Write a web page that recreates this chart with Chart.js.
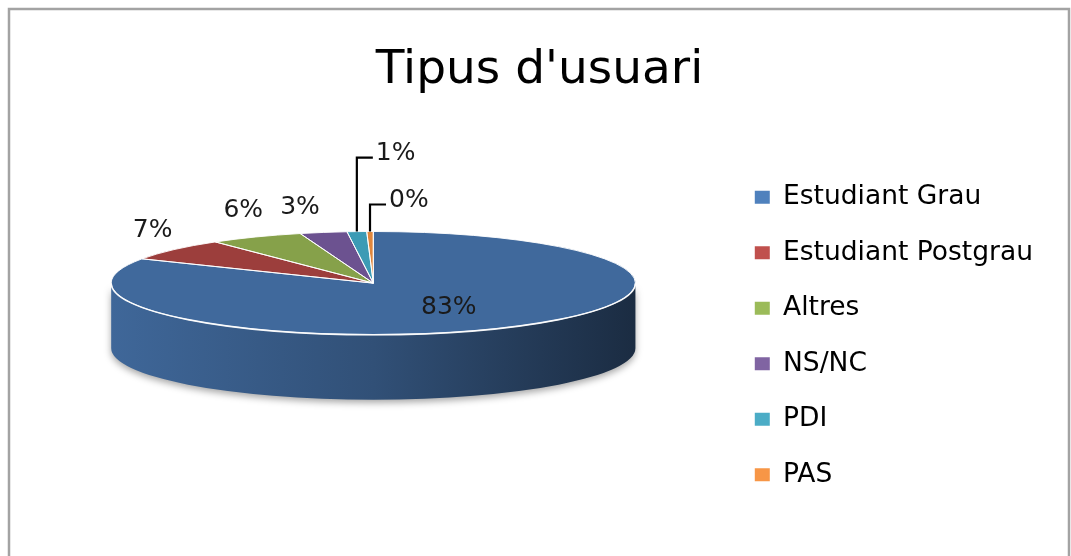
<!DOCTYPE html>
<html>
<head>
<meta charset="utf-8">
<script src="https://cdn.jsdelivr.net/npm/chart.js@4.4.0/dist/chart.umd.min.js"></script>
<style>
  html, body { margin: 0; padding: 0; background: #fff; }
  #wrap { position: absolute; left: 0; top: 0; width: 1071px; height: 556px; }
</style>
</head>
<body>
<div id="wrap"><canvas id="chart"></canvas></div>
<script>
var categories = ['Estudiant Grau', 'Estudiant Postgrau', 'Altres', 'NS/NC', 'PDI', 'PAS'];
var shares = [82.8, 6.9, 5.8, 2.9, 1.2, 0.4];
var topColors = ['#40699c', '#9c3e3c', '#86a14a', '#6c5290', '#3c9bb5', '#e0873d'];
var legendColors = ['#4f81bd', '#c0504d', '#9bbb59', '#8064a2', '#4bacc6', '#f79646'];

var FONT = 'DejaVu Sans';

function shade(hex, f) {
    var n = parseInt(hex.slice(1), 16);
    var r = n >> 16, g = (n >> 8) & 255, b = n & 255;
    return 'rgb(' + Math.round(r * f) + ',' + Math.round(g * f) + ',' + Math.round(b * f) + ')';
}

// where the tilted pie sits inside the chart area
function pieGeometry(chart) {
    var ca = chart.chartArea;
    var rx = ca.width * 0.38;
    return {
        cx: ca.left + ca.width * 0.489,
        cy: ca.top + ca.height * 0.389,
        rx: rx,
        ry: rx * 0.197,
        depth: rx * 0.248
    };
}

var frame = {
    id: 'frame',
    beforeDraw: function(chart) {
        var ctx = chart.ctx;
        ctx.save();
        ctx.strokeStyle = '#a3a3a3';
        ctx.lineWidth = 2.5;
        ctx.strokeRect(9, 9, 1060, 620);
        ctx.restore();
    }
};

var pie3d = {
    id: 'pie3d',
    beforeDatasetsDraw: function(chart) {
        var ctx = chart.ctx;
        var meta = chart.getDatasetMeta(0);
        var g = pieGeometry(chart);
        // the visible side wall (front half only)
        ctx.save();
        ctx.shadowColor = 'rgba(0,0,0,0.35)';
        ctx.shadowBlur = 7;
        ctx.shadowOffsetY = 3;
        meta.data.forEach(function(el, i) {
            [0, 2 * Math.PI].forEach(function(shift) {
                var a0 = Math.max(el.startAngle, shift);
                var a1 = Math.min(el.endAngle, shift + Math.PI);
                if (a1 <= a0) return;
                ctx.beginPath();
                ctx.ellipse(g.cx, g.cy, g.rx, g.ry, 0, a0, a1, false);
                ctx.ellipse(g.cx, g.cy + g.depth, g.rx, g.ry, 0, a1, a0, true);
                ctx.closePath();
                var grad = ctx.createLinearGradient(g.cx - g.rx, 0, g.cx + g.rx, 0);
                grad.addColorStop(0, shade(topColors[i], 0.98));
                grad.addColorStop(0.5, shade(topColors[i], 0.76));
                grad.addColorStop(1, shade(topColors[i], 0.42));
                ctx.fillStyle = grad;
                ctx.fill();
            });
        });
        ctx.restore();
        // squash the library's circle into the ellipse for the top face
        var arc0 = meta.data[0];
        ctx.save();
        ctx.translate(g.cx, g.cy);
        ctx.scale(g.rx / arc0.outerRadius, g.ry / arc0.outerRadius);
        ctx.translate(-arc0.x, -arc0.y);
    },
    afterDatasetsDraw: function(chart) {
        var ctx = chart.ctx;
        ctx.restore();
        var meta = chart.getDatasetMeta(0);
        var g = pieGeometry(chart);
        ctx.save();
        ctx.strokeStyle = 'rgba(255,255,255,0.9)';
        ctx.lineWidth = 1;
        meta.data.forEach(function(el) {
            ctx.beginPath();
            ctx.moveTo(g.cx, g.cy);
            ctx.ellipse(g.cx, g.cy, g.rx, g.ry, 0, el.startAngle, el.endAngle, false);
            ctx.closePath();
            ctx.stroke();
        });
        ctx.lineWidth = 1.6;
        ctx.beginPath();
        ctx.ellipse(g.cx, g.cy, g.rx, g.ry, 0, 0, Math.PI, false);
        ctx.stroke();
        ctx.restore();

        // percentage labels
        var total = shares.reduce(function(a, b) { return a + b; }, 0);
        ctx.save();
        ctx.fillStyle = '#1a1a1a';
        ctx.strokeStyle = '#000';
        ctx.font = '25px "' + FONT + '"';
        ctx.textBaseline = 'middle';
        var nudge = { 3: [-18, 5] };
        var rise = { 4: 74, 5: 27 };
        meta.data.forEach(function(el, i) {
            var mid = (el.startAngle + el.endAngle) / 2;
            var c = Math.cos(mid), s = Math.sin(mid);
            var txt = Math.round(shares[i] / total * 100) + '%';
            var ax = g.cx + g.rx * c, ay = g.cy + g.ry * s;
            if (i === 0) {
                ctx.textAlign = 'center';
                ctx.fillText(txt, g.cx + g.rx * c * 0.56, g.cy + g.ry * s * 0.56);
            } else if (rise[i]) {
                var top = ay - rise[i];
                ctx.lineWidth = 2.2;
                ctx.beginPath();
                ctx.moveTo(ax, ay);
                ctx.lineTo(ax, top);
                ctx.lineTo(ax + 16, top);
                ctx.stroke();
                ctx.textAlign = 'left';
                ctx.fillText(txt, ax + 19, top - 4);
            } else {
                var nd = nudge[i] || [0, 0];
                ctx.textAlign = 'center';
                ctx.fillText(txt, ax + c * 28 + nd[0], ay + s * 30 + nd[1]);
            }
        });
        ctx.restore();
    }
};

var baseLabels = Chart.overrides.pie.plugins.legend.labels.generateLabels;

new Chart(document.getElementById('chart'), {
    type: 'pie',
    data: {
        labels: categories,
        datasets: [{
            data: shares,
            backgroundColor: topColors,
            borderWidth: 0,
            hoverOffset: 0,
            clip: false
        }]
    },
    options: {
        responsive: true,
        maintainAspectRatio: false,
        animation: false,
        events: [],
        layout: { padding: { left: 36, right: 28, top: 0, bottom: 0 } },
        plugins: {
            title: {
                display: true,
                text: "Tipus d'usuari",
                color: '#000',
                font: { family: FONT, size: 47, weight: 'normal' },
                padding: { top: 43, bottom: 10 }
            },
            legend: {
                position: 'right',
                align: 'center',
                // empty title only pushes the entries down
                title: {
                    display: true,
                    text: ' ',
                    font: { size: 10 },
                    padding: { top: 104, bottom: 0 }
                },
                labels: {
                    color: '#000',
                    font: { family: FONT, size: 26.5 },
                    boxWidth: 15,
                    boxHeight: 13,
                    padding: 29,
                    generateLabels: function(chart) {
                        var items = baseLabels(chart);
                        items.forEach(function(it, i) {
                            it.fillStyle = legendColors[i];
                            it.strokeStyle = legendColors[i];
                            it.lineWidth = 0;
                        });
                        return items;
                    }
                }
            },
            tooltip: { enabled: false }
        }
    },
    plugins: [frame, pie3d]
});
</script>
</body>
</html>
